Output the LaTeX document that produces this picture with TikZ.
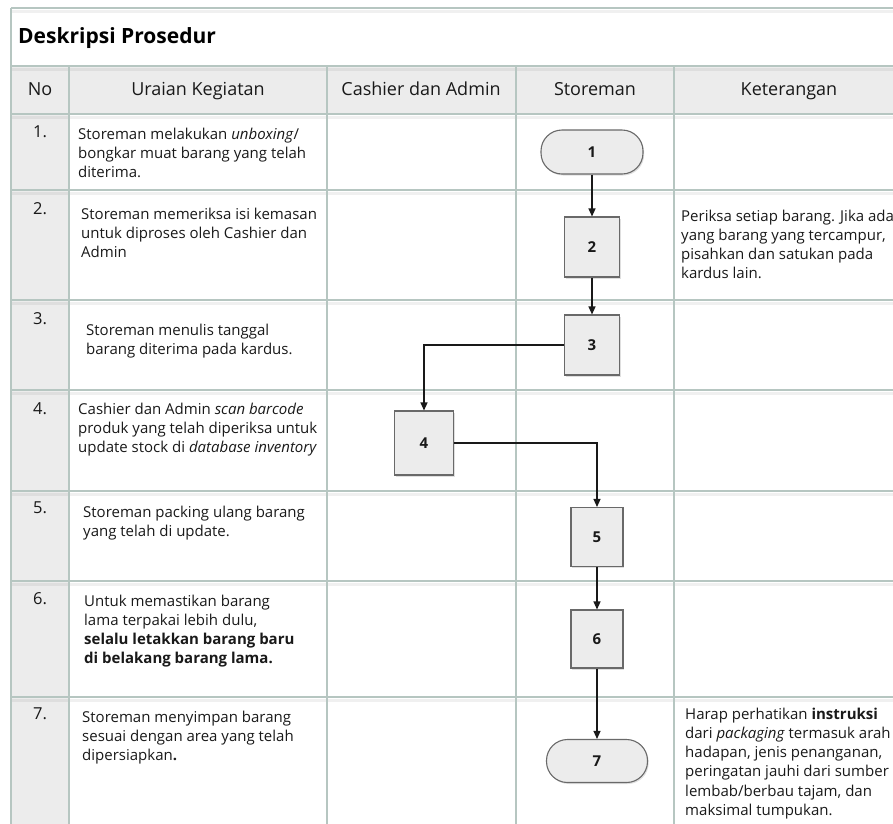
\documentclass[tikz,border=0pt]{standalone}
\usepackage{fontspec}
\setmainfont{Open Sans}
\usetikzlibrary{arrows.meta,shadows}
\definecolor{gridc}{RGB}{182,198,193}
\definecolor{cellgray}{RGB}{236,236,236}
\definecolor{boxfill}{RGB}{236,236,236}
\definecolor{boxedge}{RGB}{105,105,105}
\definecolor{ink}{RGB}{25,25,25}
% fixed first-line height so that north anchors sit a known distance above the baseline
\newcommand{\fls}{\rule{0pt}{12pt}}
\begin{document}
\begin{tikzpicture}[x=1pt,y=-1pt,
  gridline/.style={draw=gridc,line width=1.6pt},
  gridshade/.style={draw=black,opacity=0.06,line width=2.5pt},
  body/.style={anchor=north west,inner sep=0pt,align=left,
    font=\fontsize{15}{19.2}\selectfont,text=ink},
  num/.style={anchor=north,inner sep=0pt,font=\fontsize{16.5}{18}\selectfont,text=ink},
  head/.style={anchor=base,inner sep=0pt,font=\fontsize{18}{20}\selectfont,text=ink},
  stepbox/.style={draw=boxedge,fill=boxfill,line width=1.1pt,
    minimum width=55pt,minimum height=60pt,inner sep=0pt,
    font=\fontsize{15}{16}\selectfont\bfseries,text=ink,
    drop shadow={shadow xshift=1.2pt,shadow yshift=-1.5pt,opacity=0.25}},
  termbox/.style={stepbox,rounded corners=21pt,minimum width=102pt,minimum height=44pt},
  flow/.style={draw=ink,line width=1.2pt,-{Triangle[length=8pt,width=7pt]}}
]
\path[use as bounding box] (0,0) rectangle (893,823);
\clip (0,0) rectangle (893,823);

% shaded header row and number column
\fill[cellgray] (11,66) rectangle (900,114);
\fill[cellgray] (11,114) rectangle (69,830);

% faint shadows under the row rules
\foreach \yy in {10,68,116,192,302,392,493,583,699}
  \draw[gridshade] (11,\yy+1.5) -- (900,\yy+1.5);

% table rules
\foreach \yy in {8,66,114,190,300,390,491,581,697}
  \draw[gridline] (11,\yy) -- (900,\yy);
\draw[gridline] (11,8) -- (11,830);
\foreach \xx in {69,327,516,674}
  \draw[gridline] (\xx,66) -- (\xx,830);

% title and column heads
\node[anchor=base west,inner sep=0pt,font=\fontsize{21}{24}\selectfont\bfseries,text=black]
  (title) at (18,43) {Deskripsi Prosedur};
\node[head] (hno)  at (40,95)  {No};
\node[head] (hura) at (198,95) {Uraian Kegiatan};
\node[head] (hca)  at (421,95) {Cashier dan Admin};
\node[head] (hst)  at (595,95) {Storeman};
\node[head] (hket) at (789,95) {Keterangan};

% step numbers
\node[num] (no1) at (40,125) {\fls 1.};
\node[num] (no2) at (40,202) {\fls 2.};
\node[num] (no3) at (40,312) {\fls 3.};
\node[num] (no4) at (40,402) {\fls 4.};
\node[num] (no5) at (40,501) {\fls 5.};
\node[num] (no6) at (40,592) {\fls 6.};
\node[num] (no7) at (40,707) {\fls 7.};

% activity descriptions
\node[body] (u1) at (78,127) {\fls Storeman melakukan \textit{unboxing}/\\bongkar muat barang yang telah\\diterima.};
\node[body] (u2) at (81,207) {\fls Storeman memeriksa isi kemasan\\untuk diproses oleh Cashier dan\\Admin};
\node[body] (u3) at (86,323) {\fls Storeman menulis tanggal\\barang diterima pada kardus.};
\node[body] (u4) at (78,402) {\fls Cashier dan Admin \textit{scan barcode}\\produk yang telah diperiksa untuk\\update stock di \textit{database inventory}};
\node[body] (u5) at (83,505) {\fls Storeman packing ulang barang\\yang telah di update.};
\node[body] (u6) at (84,594) {\fls Untuk memastikan barang\\lama terpakai lebih dulu,\\\textbf{selalu letakkan barang baru}\\\textbf{di belakang barang lama.}};
\node[body] (u7) at (82,710) {\fls Storeman menyimpan barang\\sesuai dengan area yang telah\\dipersiapkan\textbf{.}};

% remarks
\node[body] (k2) at (681,209) {\fls Periksa setiap barang. Jika ada\\yang barang yang tercampur,\\pisahkan dan satukan pada\\kardus lain.};
\node[body] (k7) at (685,707) {\fls Harap perhatikan \textbf{instruksi}\\dari \textit{packaging} termasuk arah\\hadapan, jenis penanganan,\\peringatan jauhi dari sumber\\lembab/berbau tajam, dan\\maksimal tumpukan.};

% flow symbols
\node[termbox] (n1) at (592,152) {1};
\node[stepbox] (n2) at (592,247) {2};
\node[stepbox] (n3) at (592,345) {3};
\node[stepbox,minimum width=59pt,minimum height=64pt] (n4) at (424,443) {4};
\node[stepbox,minimum width=52pt,minimum height=59pt] (n5) at (597,537) {5};
\node[stepbox,minimum width=52pt,minimum height=58pt] (n6) at (597,639) {6};
\node[termbox,minimum width=101pt,minimum height=43pt] (n7) at (597,761) {7};

% connectors
\draw[flow] (n1) -- (n2);
\draw[flow] (n2) -- (n3);
\draw[flow] (n3.west) -| (n4.north);
\draw[flow] (n4.east) -| (n5.north);
\draw[flow] (n5) -- (n6);
\draw[flow] (n6) -- (n7);
\end{tikzpicture}
\end{document}
